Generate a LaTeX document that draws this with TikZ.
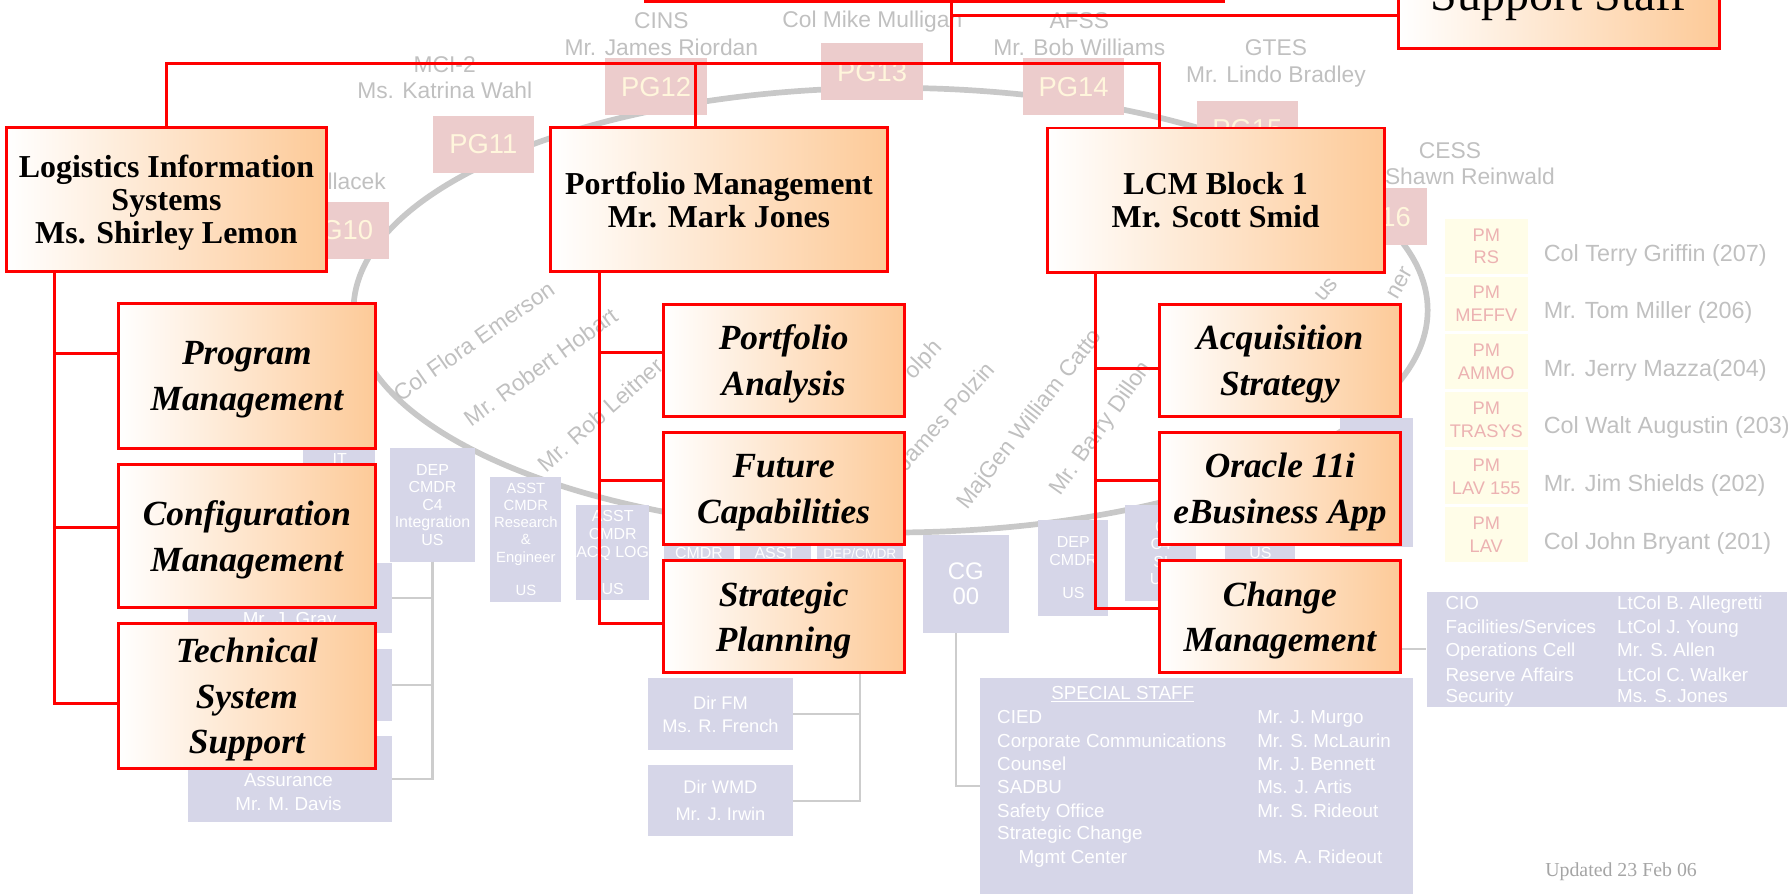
\documentclass[tikz,border=0pt]{standalone}
\usepackage{fontspec}
\setmainfont{Liberation Serif}
\newfontfamily\bgsans{Liberation Sans}

\definecolor{peach}{RGB}{253,202,152}
\definecolor{lavender}{RGB}{214,214,232}
\definecolor{pgpink}{RGB}{236,204,204}
\definecolor{pgtext}{RGB}{255,246,220}
\definecolor{fadegray}{RGB}{192,192,192}
\definecolor{ringgray}{RGB}{200,200,200}
\definecolor{treegray}{RGB}{205,205,205}
\definecolor{pmcream}{RGB}{255,253,232}
\definecolor{pmpink}{RGB}{236,178,178}
\definecolor{updgray}{RGB}{165,165,165}

\tikzset{
  headbox/.style={draw=red, line width=2.6pt, left color=white, right color=peach,
    inner sep=0pt, align=center, text depth=0pt, font=\fontsize{28}{29}\selectfont\bfseries},
  subbox/.style={headbox, text depth=-4pt, font=\fontsize{31}{40}\selectfont\bfseries\itshape},
  orgline/.style={draw=red, line width=2.6pt},
  ringline/.style={draw=ringgray, line width=5pt},
  treeline/.style={draw=treegray, line width=1.8pt},
  lavbox/.style={fill=lavender, inner sep=0pt, text=white, align=center,
    font=\bgsans\fontsize{14}{15.4}\selectfont},
  lavtxt/.style={text=white, inner sep=0pt, align=center, text height=11.8pt, text depth=0pt,
    font=\bgsans\fontsize{16.5}{20.6}\selectfont},
  smalltxt/.style={lavtxt, text height=10pt, font=\bgsans\fontsize{14}{15}\selectfont},
  pgbox/.style={fill=pgpink, text=pgtext, inner sep=0pt, minimum width=89pt,
    minimum height=50pt, font=\bgsans\fontsize{24}{24}\selectfont},
  faded/.style={text=fadegray, inner sep=0pt, align=center,
    font=\bgsans\fontsize{20}{23}\selectfont},
  pmbox/.style={fill=pmcream, text=pmpink, inner sep=0pt, minimum width=73.3pt,
    minimum height=48pt, align=center, font=\bgsans\fontsize{16}{20}\selectfont},
  pmname/.style={text=fadegray, inner sep=0pt, anchor=west,
    font=\bgsans\fontsize{20.5}{22}\selectfont}
}

\begin{document}
\begin{tikzpicture}[x=1pt,y=-1pt]
\clip (0,0) rectangle (1568,785);

\draw[ringline] (781,272) ellipse [x radius=471, y radius=195];

\foreach \n/\x/\y in {10/296.5/202, 11/423.8/126.5, 12/575.3/76, 13/764.8/63,
  14/941.5/76, 15/1093.8/113.6, 16/1206.6/190}
  \node[pgbox] (pg\n) at (\x,\y) {PG\n};

\node[faded] (mci) at (390,68) {MCI-2\\Ms. Katrina Wahl};
\node[faded] (cins) at (580,30) {CINS\\Mr. James Riordan};
\node[faded] (mulligan) at (765,19) {Col Mike Mulligan};
\node[faded] (afss) at (946.5,30) {AFSS\\Mr. Bob Williams};
\node[faded] (gtes) at (1119,55.5) {GTES\\Mr. Lindo Bradley};
\node[faded] (cess) at (1271.5,143.3) {CESS\\Mr. Shawn Reinwald};
\node[faded, anchor=west] (hlacek) at (287,159) {llacek};

\node[faded, rotate=35] (emerson) at (415.5,299) {Col Flora Emerson};
\node[faded, rotate=36] (hobart) at (474,321.5) {Mr. Robert Hobart};
\node[faded, rotate=41.5] (leitner) at (526.5,363.8) {Mr. Rob Leitner};
\node[faded, rotate=47] (olph) at (810,316) {olph};
\node[faded, rotate=48.5] (polzin) at (817,378) {Mr. James Polzin};
\node[faded, rotate=52] (catto) at (903.5,368.3) {MajGen William Catto};
\node[faded, rotate=54.7] (dillon) at (966,376) {Mr. Barry Dillon};
\node[faded, rotate=50] (usfrag) at (1163,254) {us};
\node[faded, rotate=60] (nerfrag) at (1228,248) {ner};

\node[lavbox, minimum width=63pt, minimum height=87pt] (itbox) at (297.5,436.5) {};
\node[smalltxt] (ittxt) at (298,402) {IT};
\node[lavbox, minimum width=178.5pt, minimum height=61pt] (grayb) at (254.3,524.5) {};
\node[lavtxt] (graytxt) at (254,543) {Mr. J. Gray};
\node[lavbox, minimum width=178.5pt, minimum height=63pt] (grayc) at (254.3,600.5) {};
\node[lavbox, minimum width=178.5pt, minimum height=75.4pt] (grayd) at (254.3,683.3) {};
\node[lavtxt] (davis) at (253,704.6) {Assurance\\Mr. M. Davis};
\node[lavbox, minimum width=74.6pt, minimum height=99.6pt] (depc4) at (379.3,442.8)
  {DEP\\CMDR\\C4\\Integration\\US};
\node[lavbox, minimum width=62.4pt, minimum height=109.8pt,
  font=\bgsans\fontsize{13}{15}\selectfont] (asstre) at (461.2,472.9)
  {ASST\\CMDR\\Research\\\&\\Engineer\\[14pt]US};
\node[lavbox, minimum width=62.6pt, minimum height=83pt] (asstacq) at (537.3,484.5)
  {ASST\\CMDR\\ACQ LOG\\[17pt]US};
\node[lavbox, minimum width=62pt, minimum height=94pt] (cmdrbox) at (613,513) {};
\node[lavbox, minimum width=62pt, minimum height=94pt] (asstbox) at (680,513) {};
\node[lavbox, minimum width=75.5pt, minimum height=94pt] (depbox) at (754,513) {};
\node[smalltxt] (cmdrtxt) at (613,485) {CMDR};
\node[smalltxt] (assttxt) at (680,485) {ASST};
\node[smalltxt, font=\bgsans\fontsize{12}{15}\selectfont] (deptxt) at (754,485) {DEP/CMDR};
\node[lavbox, minimum width=126.4pt, minimum height=63.3pt,
  font=\bgsans\fontsize{16}{20.7}\selectfont] (dirfm) at (631.8,626.4) {Dir FM\\Ms. R. French};
\node[lavbox, minimum width=126.4pt, minimum height=62.3pt,
  font=\bgsans\fontsize{16}{23.6}\selectfont] (dirwmd) at (631.8,702.2) {Dir WMD\\Mr. J. Irwin};
\node[lavbox, minimum width=76pt, minimum height=86pt,
  font=\bgsans\fontsize{21}{21.5}\selectfont] (cg) at (847,512) {CG\\00};
\node[lavbox, minimum width=61.5pt, minimum height=84pt] (depus) at (941.3,498) {DEP\\CMDR\\[14pt]US};
\node[lavbox, minimum width=62pt, minimum height=84pt] (c4sys) at (1018,485) {C\\C4\\SI\\US};
\node[lavbox, minimum width=61.4pt, minimum height=90pt] (usbox) at (1105.3,485) {US};
\node[lavbox, minimum width=63.6pt, minimum height=112.8pt] (rightbox) at (1207.2,423.1) {};
\node[lavbox, minimum width=379.4pt, minimum height=188.6pt] (special) at (1049.3,689.3) {};
\node[lavbox, minimum width=316pt, minimum height=101pt] (offices) at (1409,569.5) {};

\draw[treeline] (depc4.south) |- (grayb.east);
\draw[treeline] (depc4.south) |- (grayc.east);
\draw[treeline] (depc4.south) |- (grayd.east);
\draw[treeline] (depbox.south) |- (dirfm.east);
\draw[treeline] (depbox.south) |- (dirwmd.east);
\draw[treeline] ([xshift=-9pt]cg.south) |- (special.west);
\coordinate (chgtap) at (1200,569.5);
\draw[treeline] (chgtap) -- (offices.west);

\node[lavtxt] (sstitle) at (984.6,607.6) {\underline{SPECIAL STAFF}};
\foreach \y/\lft/\rgt [count=\i] in {628.7/CIED/Mr. J. Murgo,
  650/Corporate Communications/Mr. S. McLaurin, 669.6/Counsel/Mr. J. Bennett,
  690/SADBU/Ms. J. Artis, 711/Safety Office/Mr. S. Rideout} {
  \node[lavtxt, anchor=west] (ssl\i) at (874.3,\y) {\lft};
  \node[lavtxt, anchor=west] (ssr\i) at (1102.4,\y) {\rgt};
}
\node[lavtxt, anchor=west] (ssl6) at (874.3,730.4) {Strategic Change};
\node[lavtxt, anchor=west] (ssl7) at (893,751) {Mgmt Center};
\node[lavtxt, anchor=west] (ssr7) at (1102.4,751) {Ms. A. Rideout};

\foreach \y/\lft/\rgt [count=\i] in {529/CIO/LtCol B. Allegretti,
  549.7/{Facilities\slash Services}/LtCol J. Young, 570/Operations Cell/Mr. S. Allen,
  591.5/Reserve Affairs/LtCol C. Walker, 610.5/Security/Ms. S. Jones} {
  \node[lavtxt, anchor=west] (ofl\i) at (1267.5,\y) {\lft};
  \node[lavtxt, anchor=west] (ofr\i) at (1418,\y) {\rgt};
}

\foreach \pmn/\who [count=\i from 0] in {RS/Col Terry Griffin (207),
  MEFFV/Mr. Tom Miller (206), AMMO/Mr. Jerry Mazza(204),
  TRASYS/Col Walt Augustin (203), LAV 155/Mr. Jim Shields (202),
  LAV/Col John Bryant (201)} {
  \node[pmbox] (pmlist\i) at (1303.4,216+50.6*\i) {PM\\\pmn};
  \node[pmname] (pmwho\i) at (1353.6,223.7+50.5*\i) {\who};
}

\node[text=updgray, inner sep=0pt, font=\fontsize{17.4}{18}\selectfont] (updated)
  at (1421.6,764.6) {Updated 23 Feb 06};

\node[headbox, minimum width=507pt, minimum height=81pt] (cmd) at (819.5,-39.5) {};
\node[headbox, minimum width=281pt, minimum height=92.4pt, text height=38pt,
  text depth=12.4pt, font=\fontsize{42}{42}\selectfont] (support) at (1367.1,-3.8) {Support Staff};

\node[headbox, minimum width=280pt, minimum height=126pt] (lis) at (146,175)
  {Logistics Information\\Systems\\Ms. Shirley Lemon};
\node[headbox, minimum width=295pt, minimum height=126.5pt] (portmgt) at (630.5,175.2)
  {Portfolio Management\\Mr. Mark Jones};
\node[headbox, minimum width=295.4pt, minimum height=126.5pt] (lcm) at (1066.1,175.5)
  {LCM Block 1\\Mr. Scott Smid};

\node[subbox, minimum width=225pt, minimum height=127pt] (prog) at (216.5,329.5) {Program\\Management};
\node[subbox, minimum width=225pt, minimum height=126pt] (cfg) at (216.5,470) {Configuration\\Management};
\node[subbox, minimum width=225pt, minimum height=126.7pt] (tss) at (216.5,610.3) {Technical\\System\\Support};

\node[subbox, minimum width=211.5pt, minimum height=98pt] (pfa) at (687.2,316) {Portfolio\\Analysis};
\node[subbox, minimum width=211.5pt, minimum height=98.5pt] (futcap) at (687.2,428.5) {Future\\Capabilities};
\node[subbox, minimum width=211.5pt, minimum height=98.2pt] (strat) at (687.2,541) {Strategic\\Planning};

\node[subbox, minimum width=211pt, minimum height=98pt] (acq) at (1122.4,316) {Acquisition\\Strategy};
\node[subbox, minimum width=211pt, minimum height=98.2pt] (oracle) at (1122.4,428.4) {Oracle 11i\\eBusiness App};
\node[subbox, minimum width=211pt, minimum height=98.2pt] (chg) at (1122.4,541) {Change\\Management};

\coordinate (hub) at (834,55.6);
\coordinate (ssjoin) at (834,13.7);
\draw[orgline] (hub |- cmd.south) -- (hub);
\draw[orgline] (ssjoin) -- (ssjoin -| support.west);
\draw[orgline] (lis.north) |- (hub) -| ([xshift=-49pt]lcm.north);
\draw[orgline] ([xshift=-21pt]portmgt.north) -- ([xshift=-21pt]portmgt.north |- hub);

\foreach \n/\s in {prog/19.5pt, cfg/7pt, tss/-6.7pt}
  \draw[orgline] ([xshift=-98pt]lis.south) |- ([yshift=\s]\n.west);
\foreach \n/\s in {pfa/6.6pt, futcap/7.5pt, strat/-5.8pt}
  \draw[orgline] ([xshift=-104.5pt]portmgt.south) |- ([yshift=\s]\n.west);
\foreach \n/\s in {acq/-6.8pt, oracle/7.4pt, chg/7.5pt}
  \draw[orgline] ([xshift=-105.1pt]lcm.south) |- ([yshift=\s]\n.west);
\end{tikzpicture}
\end{document}
